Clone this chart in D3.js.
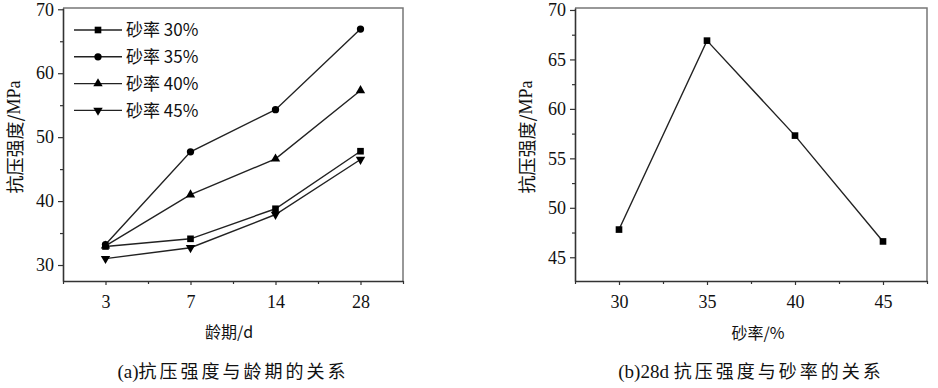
<!DOCTYPE html>
<html>
<head>
<meta charset="utf-8">
<script src="https://cdn.jsdelivr.net/npm/d3@7"></script>
<style>
  body { margin: 0; background: #fff; }
  svg { display: block; }
  .cn { font-family: "Noto Sans CJK SC", sans-serif; fill: #111; }
  .serif { font-family: "Liberation Serif", "DejaVu Serif", serif; }
</style>
</head>
<body>
<svg id="chart"></svg>
<script>
// (a) strength vs age
const ages = ["3", "7", "14", "28"];
const sandRates = ["30%", "35%", "40%", "45%"];
const strength30 = [32.9, 34.1, 38.8, 47.8];
const strength35 = [33.2, 47.7, 54.3, 66.9];
const strength40 = [33.0, 41.0, 46.6, 57.3];
const strength45 = [31.0, 32.7, 37.9, 46.5];
const yTicksA = [30, 40, 50, 60, 70];

// (b) 28d strength vs sand rate
const rateB = [30, 35, 40, 45];
const strengthB = [47.8, 66.9, 57.3, 46.6];
const yTicksB = [45, 50, 55, 60, 65, 70];

const w = 938, h = 388;
const svg = d3.select("#chart").attr("width", w).attr("height", h);

const lineColor = "#222";
const frameColor = "#777";

function frame(g, x0, x1, y0, y1) {
  // top and right border, lighter
  g.append("path")
    .attr("d", `M${x0},${y0}H${x1}V${y1}`)
    .attr("fill", "none").attr("stroke", frameColor).attr("stroke-width", 1.5);
}

function marker(g, type, x, y) {
  const sym = {
    square: d3.symbolSquare,
    circle: d3.symbolCircle,
    up: d3.symbolTriangle,
    down: d3.symbolTriangle
  }[type];
  const size = type === "circle" ? 42 : type === "square" ? 44 : 38;
  g.append("path")
    .attr("d", d3.symbol(sym, size)())
    .attr("transform", `translate(${x},${y})` + (type === "down" ? " rotate(180)" : ""))
    .attr("fill", "#000");
}

function axes(g, x, y, xTickVals, xMinor, yTickVals, yMinor, xFmt) {
  const [x0, x1] = x.range();
  const [y1, y0] = y.range();
  frame(g, x0, x1, y0, y1);

  const gx = g.append("g").attr("transform", `translate(0,${y1})`)
    .call(d3.axisBottom(x).tickValues(xTickVals).tickSize(4).tickSizeOuter(0).tickPadding(10).tickFormat(xFmt));
  gx.append("g").call(d3.axisBottom(x).tickValues(xMinor).tickSize(3).tickFormat(""))
    .select(".domain").remove();

  const gy = g.append("g").attr("transform", `translate(${x0},0)`)
    .call(d3.axisLeft(y).tickValues(yTickVals).tickSize(5).tickSizeOuter(0).tickPadding(4));
  gy.append("g").call(d3.axisLeft(y).tickValues(yMinor).tickSize(3).tickFormat(""))
    .select(".domain").remove();

  g.selectAll(".domain").attr("stroke", "#333").attr("stroke-width", 1.6);
  g.selectAll(".tick line").attr("stroke", "#333").attr("stroke-width", 1.2);
  g.selectAll(".tick text")
    .attr("font-family", null)
    .style("font-family", "'Liberation Serif', 'DejaVu Serif', serif")
    .style("font-size", "18px")
    .style("fill", "#111");
}

function yLabel(g, cx, cy) {
  const t = g.append("text").attr("class", "cn")
    .attr("transform", `translate(${cx},${cy}) rotate(-90)`)
    .attr("text-anchor", "middle").attr("dominant-baseline", "central")
    .style("font-size", "18px");
  t.append("tspan").text("抗压强度/");
  t.append("tspan").attr("class", "serif").text("MPa");
}

function caption(g, cx, y, prefix, rest) {
  const t = g.append("text").attr("class", "cn")
    .attr("x", cx).attr("y", y).attr("text-anchor", "middle")
    .style("font-size", "18px");
  t.append("tspan").attr("class", "serif").style("font-size", "19px").text(prefix);
  t.append("tspan").style("letter-spacing", "3px").text(rest);
}

// ---------- panel (a) ----------
const gA = svg.append("g");
const xA = d3.scaleLinear().domain([0.5, 4.5]).range([63, 403]);
const yA = d3.scaleLinear().domain([27.5, 70.2]).range([281, 8]);
axes(gA, xA, yA, [1, 2, 3, 4], [0.5, 1.5, 2.5, 3.5, 4.5],
  yTicksA, [35, 45, 55, 65], (d) => ages[d - 1]);

const seriesA = [
  { name: sandRates[0], values: strength30, m: "square" },
  { name: sandRates[1], values: strength35, m: "circle" },
  { name: sandRates[2], values: strength40, m: "up" },
  { name: sandRates[3], values: strength45, m: "down" }
];
const lineA = d3.line().x((d, i) => xA(i + 1)).y((d) => yA(d));
seriesA.forEach((s) => {
  gA.append("path").attr("d", lineA(s.values))
    .attr("fill", "none").attr("stroke", lineColor).attr("stroke-width", 1.4);
  s.values.forEach((v, i) => marker(gA, s.m, xA(i + 1), yA(v)));
});

// legend
const legend = gA.append("g").attr("transform", "translate(74,30)");
seriesA.forEach((s, i) => {
  const row = legend.append("g").attr("transform", `translate(0,${i * 26.8})`);
  row.append("line").attr("x1", 0).attr("x2", 48)
    .attr("stroke", lineColor).attr("stroke-width", 1.4);
  marker(row, s.m, 24, 0);
  row.append("text").attr("class", "cn").attr("x", 52).attr("dy", "0.36em")
    .style("font-size", "17px").text("砂率 " + s.name);
});

yLabel(gA, 14, 137);
gA.append("text").attr("class", "cn").attr("x", 229).attr("y", 338)
  .attr("text-anchor", "middle").style("font-size", "16px").text("龄期/d");
caption(gA, 233, 378, "(a)", "抗压强度与龄期的关系");

// ---------- panel (b) ----------
const gB = svg.append("g");
const xB = d3.scaleLinear().domain([27.5, 47.5]).range([575, 927]);
const yB = d3.scaleLinear().domain([42.6, 70.2]).range([281, 8]);
axes(gB, xB, yB, rateB, [27.5, 32.5, 37.5, 42.5, 47.5],
  yTicksB, [47.5, 52.5, 57.5, 62.5, 67.5], (d) => d);

const lineB = d3.line().x((d, i) => xB(rateB[i])).y((d) => yB(d));
gB.append("path").attr("d", lineB(strengthB))
  .attr("fill", "none").attr("stroke", lineColor).attr("stroke-width", 1.4);
strengthB.forEach((v, i) => marker(gB, "square", xB(rateB[i]), yB(v)));

yLabel(gB, 526, 137);
gB.append("text").attr("class", "cn").attr("x", 758).attr("y", 339)
  .attr("text-anchor", "middle").style("font-size", "16px").text("砂率/%");
caption(gB, 751, 378, "(b)28d ", "抗压强度与砂率的关系");
</script>
</body>
</html>
